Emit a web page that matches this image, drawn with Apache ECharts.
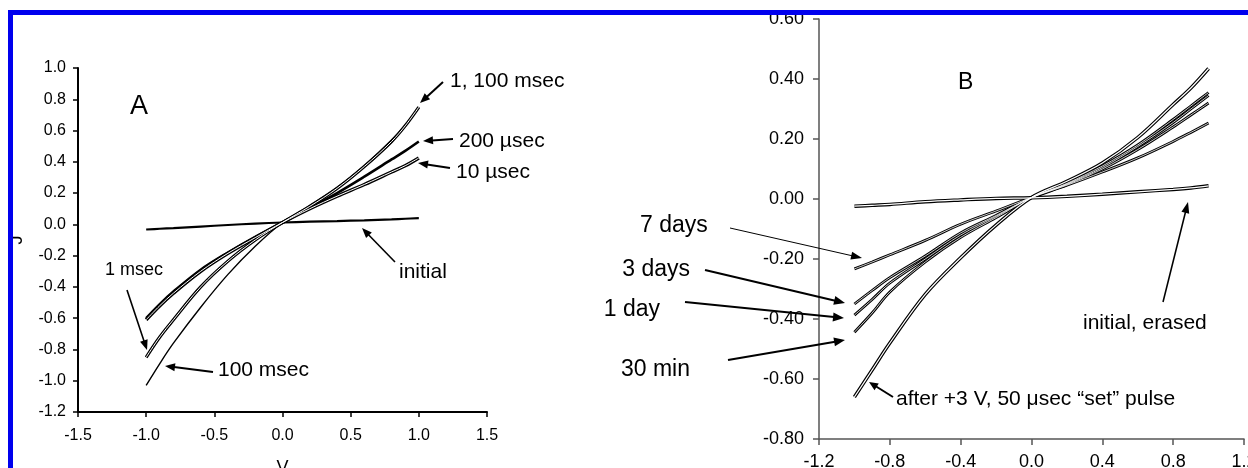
<!DOCTYPE html>
<html><head><meta charset="utf-8">
<script src="https://cdn.jsdelivr.net/npm/echarts@6/dist/echarts.min.js"></script>
<style>html,body{margin:0;padding:0;background:#fff}#c{width:1248px;height:468px}</style>
</head><body><div id="c"></div>
<script>
// ---------- Panel A data (V, J) ----------
const voltsA = [-1, -0.9, -0.8, -0.6, -0.4, -0.2, 0, 0.2, 0.4, 0.6, 0.8, 0.9, 1.0];
const jA_initial = [-0.033, -0.028, -0.024, -0.014, -0.004, 0.005, 0.012, 0.017, 0.021, 0.026, 0.032, 0.036, 0.040];
const jA_10us  = [-0.61, -0.52, -0.44, -0.30, -0.185, -0.085, 0.012, 0.10, 0.18, 0.255, 0.335, 0.375, 0.425];
const jA_200us = [-0.60, -0.51, -0.43, -0.29, -0.18, -0.08, 0.012, 0.105, 0.20, 0.305, 0.415, 0.47, 0.53];
const jA_1ms   = [-0.85, -0.72, -0.61, -0.40, -0.235, -0.10, 0.012, 0.115, 0.23, 0.37, 0.53, 0.63, 0.75];
const jA_100ms = [-1.03, -0.89, -0.76, -0.53, -0.32, -0.14, 0.012, 0.12, 0.235, 0.375, 0.54, 0.635, 0.75];
const xTicksA = ['-1.5', '-1.0', '-0.5', '0.0', '0.5', '1.0', '1.5'];
const yTicksA = ['-1.2', '-1.0', '-0.8', '-0.6', '-0.4', '-0.2', '0.0', '0.2', '0.4', '0.6', '0.8', '1.0'];

// ---------- Panel B data (V, J) ----------
const voltsB = [-1, -0.9, -0.8, -0.6, -0.4, -0.2, 0, 0.2, 0.4, 0.6, 0.8, 0.9, 1.0];
const jB_initial = [-0.024, -0.021, -0.018, -0.009, -0.003, 0.002, 0.004, 0.009, 0.016, 0.024, 0.032, 0.037, 0.044];
const jB_after   = [-0.66, -0.57, -0.48, -0.318, -0.196, -0.087, 0.005, 0.059, 0.12, 0.205, 0.315, 0.37, 0.435];
const jB_30min   = [-0.444, -0.38, -0.31, -0.21, -0.128, -0.062, 0.005, 0.052, 0.11, 0.18, 0.265, 0.31, 0.355];
const jB_1day    = [-0.387, -0.335, -0.28, -0.20, -0.12, -0.058, 0.005, 0.05, 0.105, 0.175, 0.255, 0.30, 0.345];
const jB_3days   = [-0.35, -0.305, -0.262, -0.19, -0.113, -0.055, 0.005, 0.048, 0.10, 0.165, 0.24, 0.28, 0.32];
const jB_7days   = [-0.233, -0.21, -0.186, -0.138, -0.084, -0.04, 0.005, 0.046, 0.09, 0.137, 0.192, 0.222, 0.253];
const xTicksB = ['-1.2', '-0.8', '-0.4', '0.0', '0.4', '0.8', '1.2'];
const yTicksB = ['-0.80', '-0.60', '-0.40', '-0.20', '0.00', '0.20', '0.40', '0.60'];

const FONT = '"Liberation Sans", Arial, Helvetica, sans-serif';
const pairs = (xs, ys) => xs.map((x, i) => [x, ys[i]]);

function curve(gi, xs, ys, lw, hollow) {
  const out = [{
    type: 'line', xAxisIndex: gi, yAxisIndex: gi, data: pairs(xs, ys),
    smooth: 0.35, showSymbol: false, silent: true, z: 2,
    lineStyle: { color: '#000', width: lw }
  }];
  if (hollow) out.push({
    type: 'line', xAxisIndex: gi, yAxisIndex: gi, data: pairs(xs, ys),
    smooth: 0.35, showSymbol: false, silent: true, z: 3,
    lineStyle: { color: '#fff', width: hollow }
  });
  return out;
}

function arrow(x1, y1, x2, y2, lw, hl, hw) {
  const a = Math.atan2(y2 - y1, x2 - x1);
  const bx = x2 - hl * Math.cos(a), by = y2 - hl * Math.sin(a);
  const px = -Math.sin(a) * hw / 2, py = Math.cos(a) * hw / 2;
  return [
    { type: 'line', z: 50, shape: { x1: x1, y1: y1, x2: bx + Math.cos(a), y2: by + Math.sin(a) }, style: { stroke: '#000', lineWidth: lw } },
    { type: 'polygon', z: 50, shape: { points: [[x2, y2], [bx + px, by + py], [bx - px, by - py]] }, style: { fill: '#000' } }
  ];
}
function label(text, x, y, size, align) {
  return { type: 'text', z: 50, x: x, y: y, style: { text: text, fill: '#000', font: size + 'px ' + FONT, align: align || 'left', verticalAlign: 'middle' } };
}

const axisA = (color) => ({
  axisLine: { show: true, onZero: false, lineStyle: { color: color, width: 2 } },
  axisTick: { show: true, inside: false, length: 5, lineStyle: { color: color, width: 1.5 } },
  splitLine: { show: false }
});
const axisB = (color) => ({
  axisLine: { show: true, onZero: false, lineStyle: { color: color, width: 1.5 } },
  axisTick: { show: true, inside: false, length: 6, lineStyle: { color: color, width: 1.5 } },
  splitLine: { show: false }
});

const series = [].concat(
  curve(0, voltsA, jA_initial, 2.2, 0),
  curve(0, voltsA, jA_10us, 3.5, 1),
  curve(0, voltsA, jA_200us, 2.6, 0),
  curve(0, voltsA, jA_1ms, 3.2, 1),
  curve(0, voltsA, jA_100ms, 1.4, 0),
  curve(1, voltsB, jB_initial, 3.5, 1.2),
  curve(1, voltsB, jB_7days, 2.8, 0.8),
  curve(1, voltsB, jB_3days, 2.8, 0.8),
  curve(1, voltsB, jB_1day, 2.8, 0.8),
  curve(1, voltsB, jB_30min, 2.8, 0.8),
  curve(1, voltsB, jB_after, 3.5, 1.2)
);

const graphic = [].concat(
  // panel A annotations
  label('A', 130, 107, 27),
  label('1, 100 msec', 450, 81, 21),
  label('200 µsec', 459, 141, 21),
  label('10 µsec', 456, 172, 21),
  label('initial', 399, 272, 21),
  label('1 msec', 105, 270, 18),
  label('100 msec', 218, 370, 21),
  arrow(443, 82, 420, 103, 2, 10, 8),
  arrow(453, 139, 423, 141, 2, 10, 8),
  arrow(450, 168, 418, 163, 2, 10, 8),
  arrow(395, 262, 362, 228, 1.6, 10, 8),
  arrow(127, 290, 147, 350, 1.6, 10, 8),
  arrow(213, 372, 165, 366, 2, 10, 8),
  // panel B annotations
  label('B', 958, 83, 23),
  label('7 days', 640, 226, 23),
  label('3 days', 690, 270, 23, 'right'),
  label('1 day', 660, 310, 23, 'right'),
  label('30 min', 690, 370, 23, 'right'),
  label('after +3 V, 50 μsec “set” pulse', 896, 399, 21),
  label('initial, erased', 1083, 323, 21),
  arrow(730, 228, 862, 258, 1, 11, 8),
  arrow(705, 270, 845, 303, 2, 11, 9),
  arrow(685, 302, 844, 318, 2, 11, 9),
  arrow(728, 360, 845, 340, 2, 11, 9),
  arrow(893, 397, 869, 382, 2, 9, 8),
  arrow(1163, 302, 1188, 202, 1.5, 11, 8),
  // blue frame (cropped)
  [{ type: 'rect', z: 99, shape: { x: 0, y: 0, width: 1248, height: 10 }, style: { fill: '#fff' } },
   { type: 'rect', z: 99, shape: { x: 0, y: 0, width: 8, height: 468 }, style: { fill: '#fff' } },
   { type: 'rect', z: 100, shape: { x: 10.5, y: 12.5, width: 3000, height: 3000 }, style: { fill: 'none', stroke: '#0000ee', lineWidth: 5 } }]
);

const chart = echarts.init(document.getElementById('c'), null, { renderer: 'canvas' });
chart.setOption({
  animation: false,
  backgroundColor: '#fff',
  textStyle: { fontFamily: FONT },
  grid: [
    { left: 78, top: 68, width: 409, height: 344, containLabel: false, outerBoundsMode: 'none' },
    { left: 819, top: 19, width: 425, height: 420, containLabel: false, outerBoundsMode: 'none' }
  ],
  xAxis: [
    Object.assign({ gridIndex: 0, type: 'value', min: -1.5, max: 1.5, interval: 0.5,
      axisLabel: { fontSize: 16, color: '#000', margin: 16, fontFamily: FONT, formatter: (v, i) => xTicksA[i] },
      name: 'V', nameLocation: 'middle', nameGap: 47, nameTextStyle: { fontSize: 18, color: '#000', fontFamily: FONT } }, axisA('#000')),
    Object.assign({ gridIndex: 1, type: 'value', min: -1.2, max: 1.2, interval: 0.4,
      axisLabel: { fontSize: 18, color: '#000', margin: 14, fontFamily: FONT, formatter: (v, i) => xTicksB[i] } }, axisB('#555'))
  ],
  yAxis: [
    Object.assign({ gridIndex: 0, type: 'value', min: -1.2, max: 1.0, interval: 0.2,
      axisLabel: { fontSize: 16, color: '#000', margin: 12, fontFamily: FONT, formatter: (v, i) => yTicksA[i] },
      name: 'J', nameLocation: 'middle', nameGap: 52, nameRotate: 90, nameTextStyle: { fontSize: 18, color: '#000', fontFamily: FONT } }, axisA('#000')),
    Object.assign({ gridIndex: 1, type: 'value', min: -0.8, max: 0.6, interval: 0.2,
      axisLabel: { fontSize: 18, color: '#000', margin: 15, fontFamily: FONT, formatter: (v, i) => yTicksB[i] } }, axisB('#555'))
  ],
  series: series,
  graphic: graphic
});
</script></body></html>
